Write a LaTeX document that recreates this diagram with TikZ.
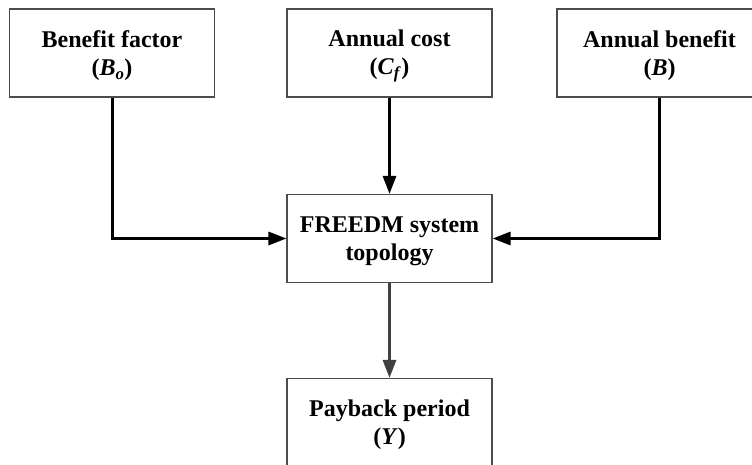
\documentclass[tikz,border=0pt]{standalone}
\usepackage{fontspec}
\setmainfont{Liberation Serif}
\usetikzlibrary{arrows.meta}

\newcommand{\bisym}[1]{\textbf{\textit{#1}}}
% raises the first line's height so the two lines sit a little lower in the box
\newcommand{\topstrut}{\rule{0pt}{22pt}}

\tikzset{
  block/.style={draw=black!70, line width=1.1pt, fill=white,
    minimum width=205pt, minimum height=88pt, inner sep=0pt,
    align=center, font=\fontsize{24}{28}\selectfont\bfseries},
  flow/.style={line width=3pt, -{Triangle[length=18pt,width=13pt]}},
  flowgray/.style={flow, draw=black!75, fill=black!75}
}

\begin{document}
\begin{tikzpicture}[x=1pt, y=-1pt]
  \useasboundingbox (0,0) rectangle (752,465);

  % input factors
  \node[block] (bo) at (112,53) {\topstrut Benefit factor\\(\bisym{B}\textsubscript{\bisym{o}})};
  \node[block] (cf) at (389.5,53) {\topstrut Annual cost\\(\bisym{C}\textsubscript{\bisym{f}})};
  \node[block] (ab) at (659.5,53) {\topstrut Annual benefit\\(\bisym{B})};

  % system and result
  \node[block] (sys) at (389.5,238.5) {\topstrut FREEDM system\\topology};
  \node[block] (pay) at (389.5,422.5) {\topstrut Payback period\\(\bisym{Y})};

  % connectors
  \draw[flow] (bo.south) |- (sys.west);
  \draw[flow] (cf.south) -- (sys.north);
  \draw[flow] (ab.south) |- (sys.east);
  \draw[flowgray] (sys.south) -- (pay.north);
\end{tikzpicture}
\end{document}
